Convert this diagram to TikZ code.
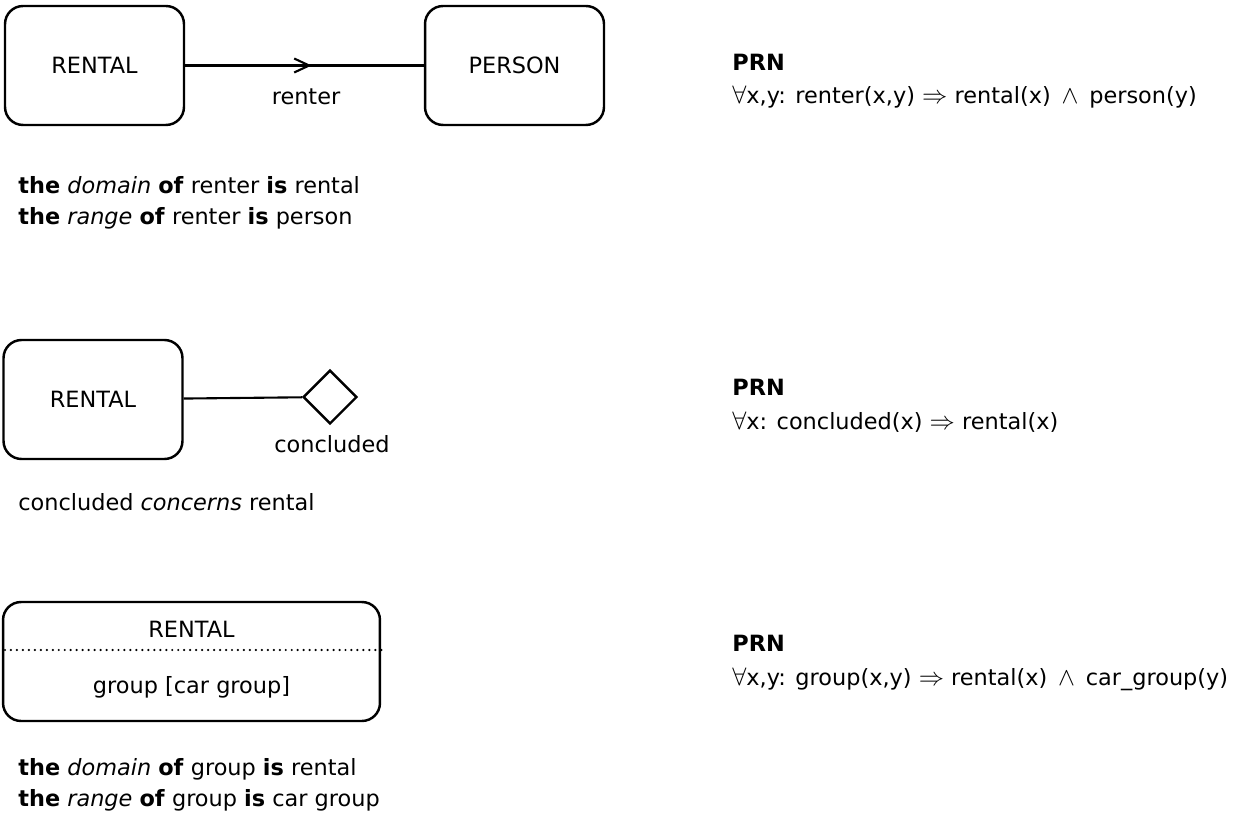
\documentclass[tikz,border=0pt]{standalone}
\usepackage{fontspec}
\setmainfont{DejaVu Sans}
\usetikzlibrary{shapes.geometric}
\usetikzlibrary{arrows.meta}
\usetikzlibrary{decorations.markings}
\newcommand{\symb}[1]{{\fontsize{15}{15}\selectfont$#1$}}

\begin{document}
\begin{tikzpicture}[x=0.02cm,y=-0.02cm,
	font=\fontsize{12.75}{17.6}\selectfont,
	entity/.style={draw,rounded corners=3.6mm,line width=1.4pt,minimum width=3.58cm,minimum height=2.38cm},
	txt/.style={anchor=west,inner sep=0,align=left},
	link/.style={line width=1.2pt}]
\useasboundingbox (0,0) rectangle (1241,814);
% renter
\node[entity] (rental) at (94.5,65.5) {RENTAL};
\node[entity] (person) at (514.5,65.5) {PERSON};
\draw[link,postaction={decorate},decoration={markings,
	mark=at position 0.53 with {\arrow{Straight Barb[length=3mm,width=2.8mm]}}}] (rental) -- (person);
\node (renterlbl) at (306,97) {renter};
\node[txt] (renterdom) at (18,203) {\textbf{the} \textit{domain} \textbf{of} renter \textbf{is} rental\\
	\textbf{the} \textit{range} \textbf{of} renter \textbf{is} person};
\node[txt] (renterprn) at (732,81) {\textbf{PRN}\\[1.5pt]
	\symb{\forall}x,y: renter(x,y) \symb{\Rightarrow} rental(x) \,\symb{\wedge}\, person(y)};
% concluded
\node[entity] (rental2) at (93,399.5) {RENTAL};
\node[draw,diamond,line width=1.4pt,inner sep=0,minimum size=1.08cm] (concl) at (330,397) {};
\draw[link] (rental2) -- (concl);
\node (concllbl) at (332,444) {concluded};
\node[txt] (conclconc) at (18,502) {concluded \textit{concerns} rental};
\node[txt] (conclprn) at (732,406) {\textbf{PRN}\\[1.5pt]
	\symb{\forall}x: concluded(x) \symb{\Rightarrow} rental(x)};
% group
\node[entity,minimum width=7.54cm] (rental3) at (191.5,661.5) {};
\node (r3name) at (191.5,629) {RENTAL};
\node (r3attr) at (191.5,687) {group [car group]};
\draw[line width=1.4pt,line cap=round,dash pattern=on 0pt off 3.4pt] (5,650) -- (383,650);
\node[txt] (groupdom) at (18,785) {\textbf{the} \textit{domain} \textbf{of} group \textbf{is} rental\\
	\textbf{the} \textit{range} \textbf{of} group \textbf{is} car group};
\node[txt] (groupprn) at (732,663) {\textbf{PRN}\\[1.5pt]
	\symb{\forall}x,y: group(x,y) \symb{\Rightarrow} rental(x) \,\symb{\wedge}\, car\_group(y)};
\end{tikzpicture}
\end{document}
